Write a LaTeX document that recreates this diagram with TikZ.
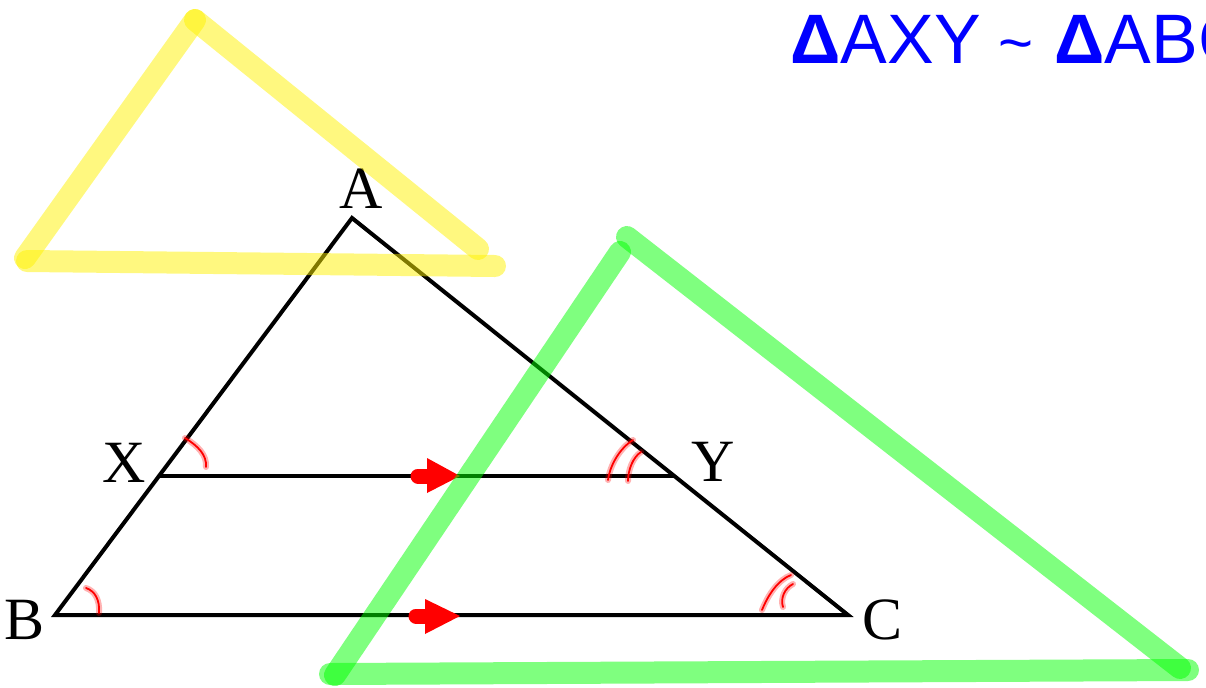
\documentclass[tikz,border=0pt]{standalone}
\usepackage{fontspec}
\setmainfont{Liberation Serif}
\newfontfamily\handfont{Liberation Sans}
\begin{document}
\begin{tikzpicture}[x=0.5pt,y=-0.5pt,
  edge/.style={line width=2pt, black, line join=miter},
  anglemark/.style={red, line width=0.9pt, line cap=round,
     preaction={draw, red, opacity=0.3, line width=3pt, line cap=round}},
  hlyellow/.style={line width=11pt, line cap=round, draw=yellow, opacity=0.5},
  hlgreen/.style={line width=11pt, line cap=round, draw=green, opacity=0.5},
  vlabel/.style={font=\fontsize{30}{36}\selectfont, inner sep=0pt},
  arrowtail/.style={red, line width=7.5pt, line cap=round},
  arrowhead/.style={fill=red}
]
\useasboundingbox (0,0) rectangle (1206,687);
\clip (0,0) rectangle (1206,687);

% vertices
\coordinate (A) at (352,218);
\coordinate (B) at (55,615);
\coordinate (C) at (848,615);
\coordinate (X) at (160,476);
\coordinate (Y) at (675,476);

% triangle and parallel
\draw[edge] (B) -- (A) -- (C) -- cycle;
\draw[edge] (X) -- (Y);

% labels
\node[vlabel] (lA) at (361,189) {A};
\node[vlabel] (lX) at (124,463) {X};
\node[vlabel] (lY) at (713,462) {Y};
\node[vlabel] (lB) at (25,620) {B};
\node[vlabel] (lC) at (883,620) {C};

% parallel arrows
\draw[arrowtail] (418,476) -- (432,476);
\fill[arrowhead] (427,458) -- (460,476) -- (427,493) -- cycle;
\draw[arrowtail] (416,616) -- (430,616);
\fill[arrowhead] (425,599) -- (460,616) -- (425,634) -- cycle;

% angle marks
\draw[anglemark] (185,438) .. controls (198,446) and (207,455) .. (206,467);
\draw[anglemark] (86,588) .. controls (95,591) and (100,600) .. (99,613);
\draw[anglemark] (608,480) .. controls (610,465) and (620,448) .. (633,440);
\draw[anglemark] (628,481) .. controls (628,470) and (633,457) .. (641,452);
\draw[anglemark] (762,610) .. controls (768,595) and (778,580) .. (791,575);
\draw[anglemark] (783,607) .. controls (780,598) and (785,588) .. (793,584);

% yellow highlight triangle
\coordinate (y1) at (195,20);
\coordinate (y2) at (25,258);
\coordinate (y3) at (478,249);
\coordinate (y4) at (27,261);
\coordinate (y5) at (495,266);
\draw[hlyellow] (y1) -- (y2);
\draw[hlyellow] (y1) -- (y3);
\draw[hlyellow] (y4) -- (y5);

% green highlight triangle
\coordinate (g1) at (627,237);
\coordinate (g2) at (1180,668);
\coordinate (g3) at (620,252);
\coordinate (g4) at (335,675);
\coordinate (g5) at (330,674);
\coordinate (g6) at (1188,670);
\draw[hlgreen] (g1) -- (g2);
\draw[hlgreen] (g3) -- (g4);
\draw[hlgreen] (g5) -- (g6);

% similarity statement
\node[anchor=base west, inner sep=0pt, text=blue, font=\handfont\fontsize{35}{42}\selectfont] (sim) at (790,63) {{\bfseries Δ}AXY\hspace{0.25em}{\fontsize{30}{34}\selectfont\textasciitilde}\hspace{0.3em}{\bfseries Δ}ABC};
\end{tikzpicture}
\end{document}
